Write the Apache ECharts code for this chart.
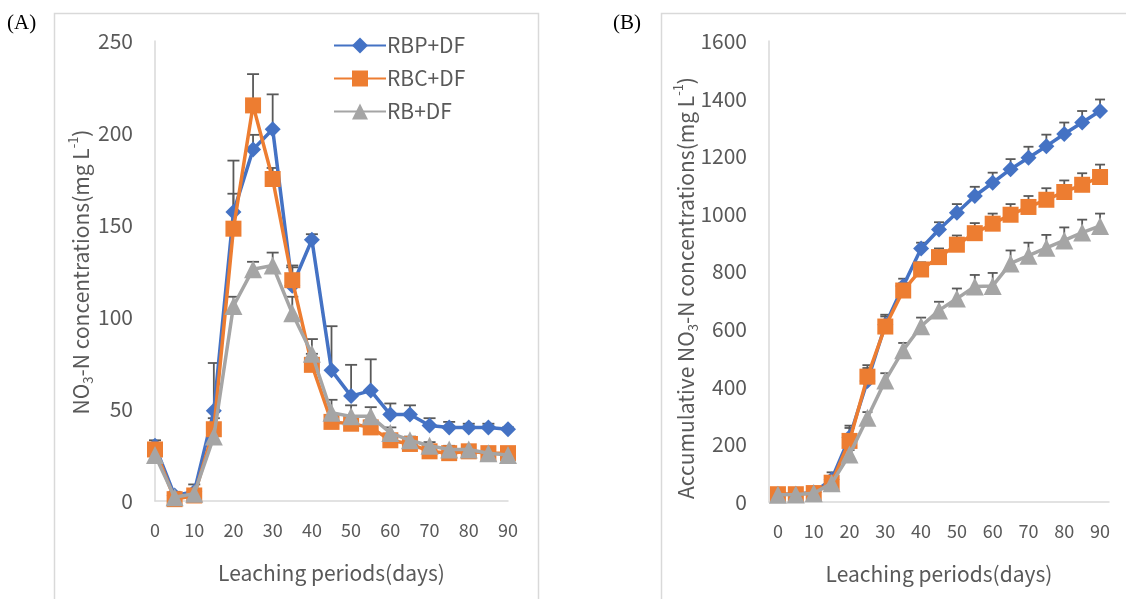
<!DOCTYPE html>
<html>
<head>
<meta charset="utf-8">
<script src="https://cdn.jsdelivr.net/npm/echarts@6/dist/echarts.min.js"></script>
<style>
html,body{margin:0;padding:0;background:#fff;}
#chart{width:1126px;height:599px;}
</style>
</head>
<body>
<div id="chart"></div>
<script>
// ---- data ----
const days = ['0','5','10','15','20','25','30','35','40','45','50','55','60','65','70','75','80','85','90'];
const seriesNames = ['RBP+DF','RBC+DF','RB+DF'];
const colors = ['#4472C4','#ED7D31','#A5A5A5'];
const symbols = ['diamond','rect','triangle'];

// Panel A: NO3-N concentrations (mg/L)
const aRBP = [30,3,5,49,157,191,202,117,142,71,57,60,47,47,41,40,40,40,39];
const aRBPerr = [3,2,4,26,28,8,19,10,3,24,17,17,6,5,4,3,2,2,1];
const aRBC = [28,1,3,39,148,215,175,120,74,43,42,40,33,31,27,26,27,26,26];
const aRBCerr = [2,1,2,6,19,17,6,8,6,3,4,4,3,3,2,2,1,1,1];
const aRB = [25,2,4,35,106,126,128,102,80,48,46,46,37,33,30,28,28,26,25];
const aRBerr = [2,1,2,5,5,4,7,9,8,7,6,5,3,2,2,2,1,1,1];

// Panel B: accumulative NO3-N (mg/L)
const bRBP = [27,28,33,78,225,420,615,750,880,946,1004,1062,1108,1155,1195,1235,1277,1317,1357];
const bRBPerr = [5,5,8,25,40,45,35,25,20,25,30,32,35,35,38,40,40,40,40];
const bRBC = [27,27,31,67,212,435,609,734,807,850,893,933,966,997,1024,1049,1076,1101,1128];
const bRBCerr = [5,5,6,15,45,40,35,25,25,30,32,35,35,37,38,40,40,40,43];
const bRB = [25,26,30,65,165,292,422,527,610,665,706,748,750,828,855,882,908,935,958];
const bRBerr = [3,3,5,10,15,20,25,25,30,30,35,40,45,45,45,45,45,45,43];

const yTicksA = {min:0, max:250, interval:50};
const yTicksB = {min:0, max:1600, interval:200};

// ---- chart ----
const FONT = 'Noto Sans CJK KR';
const TXT = '#595959';
const AXIS = '#D9D9D9';

function errRender(hw){
  return function(params, api){
    const x = api.value(0), y = api.value(1), e = api.value(2);
    const p0 = api.coord([x, y]);
    const p1 = api.coord([x, y + e]);
    const st = {stroke:'#595959', lineWidth:1.8};
    return {type:'group', children:[
      {type:'line', shape:{x1:p0[0],y1:p0[1],x2:p1[0],y2:p1[1]}, style:st},
      {type:'line', shape:{x1:p1[0]-hw,y1:p1[1],x2:p1[0]+hw,y2:p1[1]}, style:st}
    ]};
  };
}
function errData(vals, errs){ return vals.map((v,i)=>[i, v, errs[i]]); }

function lineSeries(idx, vals, gi){
  return {
    name: seriesNames[idx], type:'line', xAxisIndex:gi, yAxisIndex:gi,
    data: vals, symbol: symbols[idx], symbolSize: idx===2 ? 18 : 16,
    showSymbol:true, showAllSymbol:true, animation:false, z: 3 + idx,
    lineStyle:{color:colors[idx], width:3.5},
    itemStyle:{color:colors[idx]}
  };
}
function errSeries(idx, vals, errs, gi){
  return {
    name: seriesNames[idx] + ' err', type:'custom', xAxisIndex:gi, yAxisIndex:gi,
    data: errData(vals, errs), renderItem: errRender(gi===0?6:5),
    encode:{x:0, y:1}, z: 2, animation:false, silent:true
  };
}

const xAxisCommon = {
  type:'category', data: days,
  axisLine:{show:true, lineStyle:{color:AXIS, width:1.5}},
  axisTick:{show:false},
  axisLabel:{interval:1, color:TXT, fontSize:18, fontFamily:FONT, margin:20},
  splitLine:{show:false},
  name:'Leaching periods(days)', nameLocation:'middle', nameGap:62,
  nameTextStyle:{color:TXT, fontSize:21, fontFamily:FONT}
};
const yAxisCommon = {
  type:'value',
  axisLine:{show:true, lineStyle:{color:AXIS, width:1.5}},
  axisTick:{show:false},
  splitLine:{show:false},
  axisLabel:{color:TXT, fontSize:21, fontFamily:FONT, margin:22, formatter: v => String(v)}
};

const richTitle = {
  n:{fontSize:21, fontFamily:FONT, fill:TXT, color:TXT, lineHeight:28, verticalAlign:'middle'},
  sub:{fontSize:13, fontFamily:FONT, fill:TXT, color:TXT, lineHeight:28, verticalAlign:'bottom'},
  sup:{fontSize:13, fontFamily:FONT, fill:TXT, color:TXT, lineHeight:28, verticalAlign:'top'}
};

const option = {
  backgroundColor:'#fff',
  animation:false,
  textStyle:{fontFamily:FONT},
  grid:[
    {left:155, top:41, width:353, height:460, containLabel:false},
    {left:769, top:41, width:340, height:461, containLabel:false}
  ],
  xAxis:[
    Object.assign({}, xAxisCommon, {gridIndex:0, boundaryGap:false}),
    Object.assign({}, xAxisCommon, {gridIndex:1, boundaryGap:true})
  ],
  yAxis:[
    Object.assign({}, yAxisCommon, {gridIndex:0}, yTicksA),
    Object.assign({}, yAxisCommon, {gridIndex:1}, yTicksB)
  ],
  legend:{
    data: seriesNames, orient:'vertical', left:328, top:30,
    itemWidth:52, itemHeight:20, itemGap:12,
    textStyle:{color:TXT, fontSize:21, fontFamily:FONT, padding:[0,0,0,-4]},
    selectedMode:false
  },
  graphic:[
    {type:'rect', silent:true, z:-10, shape:{x:54.5, y:13.5, width:484, height:620},
     style:{fill:'none', stroke:AXIS, lineWidth:1.5}},
    {type:'rect', silent:true, z:-10, shape:{x:661.5, y:13.5, width:520, height:620},
     style:{fill:'none', stroke:AXIS, lineWidth:1.5}},
    {type:'text', x:7, y:13, style:{text:'(A)', fontFamily:'Liberation Serif', fontSize:21, fill:'#000'}},
    {type:'text', x:613, y:13, style:{text:'(B)', fontFamily:'Liberation Serif', fontSize:21, fill:'#000'}},
    {type:'text', x:81, y:272, rotation:Math.PI/2,
     style:{text:'{n|NO}{sub|3}{n|-N concentrations(mg L}{sup|-1}{n|)}', rich:richTitle,
            align:'center', verticalAlign:'middle'}},
    {type:'text', x:686, y:288, rotation:Math.PI/2,
     style:{text:'{n|Accumulative NO}{sub|3}{n|-N concentrations(mg L}{sup|-1}{n|)}', rich:richTitle,
            align:'center', verticalAlign:'middle'}}
  ],
  series:[
    errSeries(0, aRBP, aRBPerr, 0), errSeries(1, aRBC, aRBCerr, 0), errSeries(2, aRB, aRBerr, 0),
    lineSeries(0, aRBP, 0), lineSeries(1, aRBC, 0), lineSeries(2, aRB, 0),
    errSeries(0, bRBP, bRBPerr, 1), errSeries(1, bRBC, bRBCerr, 1), errSeries(2, bRB, bRBerr, 1),
    lineSeries(0, bRBP, 1), lineSeries(1, bRBC, 1), lineSeries(2, bRB, 1)
  ]
};

const chart = echarts.init(document.getElementById('chart'), null, {renderer:'canvas'});
chart.setOption(option);
</script>
</body>
</html>
